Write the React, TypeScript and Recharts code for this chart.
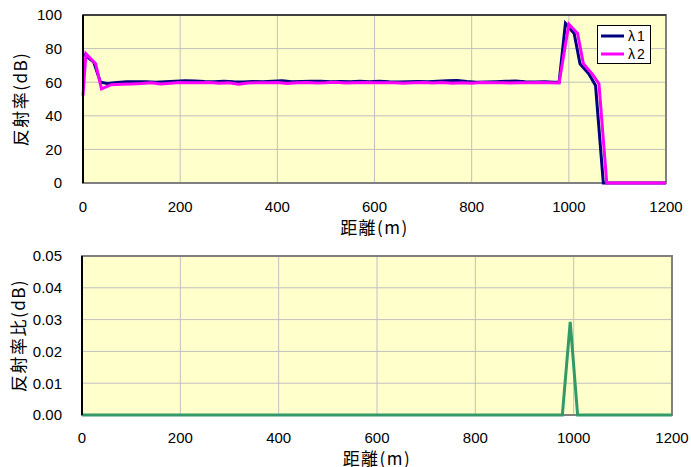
// Reflectance vs distance (λ1 / λ2) and reflectance ratio — two stacked line charts
import {
  LineChart, Line, XAxis, YAxis, CartesianGrid, Legend, ReferenceArea, ReferenceLine,
} from 'recharts';

const xTicks = [0, 200, 400, 600, 800, 1000, 1200];
const reflTicks = [0, 20, 40, 60, 80, 100];
const ratioTicks = [0, 0.01, 0.02, 0.03, 0.04, 0.05];

// λ1 reflectance (dB) by distance (m)
const lambda1Dist = [
  0, 22, 36, 50, 70, 90, 110, 130, 150, 170, 190, 210, 230, 250, 270, 290, 310, 330, 350, 370,
  390, 410, 430, 450, 470, 490, 510, 530, 550, 570, 590, 610, 630, 650, 670, 690, 710, 730, 750,
  770, 790, 810, 830, 850, 870, 890, 910, 930, 950, 970, 980, 993, 1011, 1023, 1041, 1055, 1071,
  1200,
];
const lambda1Refl = [
  77, 72, 60, 59.3, 59.8, 60.2, 60.3, 60.2, 60.0, 60.3, 60.6, 60.8, 60.7, 60.4, 60.3, 60.5, 60.2,
  60.1, 60.4, 60.2, 60.5, 60.8, 60.3, 60.4, 60.6, 60.5, 60.2, 60.4, 60.2, 60.5, 60.3, 60.6, 60.2,
  60.1, 60.3, 60.4, 60.2, 60.6, 60.9, 61.0, 60.4, 60.0, 60.1, 60.3, 60.5, 60.7, 60.2, 60.1, 60.2,
  60.0, 60.0, 95, 89, 71, 65, 58, 0, 0,
];

// λ2 reflectance (dB) by distance (m)
const lambda2Dist = [
  0, 6, 26, 38, 58, 80, 100, 120, 140, 160, 180, 200, 220, 240, 260, 280, 300, 320, 340, 360, 380,
  400, 420, 440, 460, 480, 500, 520, 540, 560, 580, 600, 620, 640, 660, 680, 700, 720, 740, 760,
  780, 800, 820, 840, 860, 880, 900, 920, 940, 960, 980, 1000, 1018, 1030, 1048, 1062, 1078, 1200,
];
const lambda2Refl = [
  52, 77, 71, 56, 58.5, 58.8, 59.0, 59.2, 59.6, 58.9, 59.4, 59.8, 59.6, 59.7, 59.8, 59.4, 59.6,
  58.8, 59.5, 59.7, 59.6, 59.8, 59.3, 59.6, 59.8, 59.5, 59.6, 59.9, 59.5, 59.7, 59.8, 59.6, 59.7,
  59.6, 59.4, 59.7, 59.8, 59.5, 59.8, 59.4, 59.6, 59.4, 59.8, 59.7, 59.6, 59.5, 59.7, 59.6, 59.8,
  59.6, 59.5, 94.5, 89, 71, 65, 59, 0, 0,
];

// reflectance ratio (dB)
const ratioDist = [0, 200, 400, 600, 800, 977, 993, 1008, 1200];
const ratioValue = [0, 0, 0, 0, 0, 0, 0.0293, 0, 0];

const toRows = (xs: number[], ys: number[]) => xs.map((d, i) => ({ dist: d, value: ys[i] }));

const lambda1Data = toRows(lambda1Dist, lambda1Refl);
const lambda2Data = toRows(lambda2Dist, lambda2Refl);
const ratioData = toRows(ratioDist, ratioValue);

const tickStyle = { fontSize: 15, fill: '#000', fontFamily: 'Liberation Sans, Arial, sans-serif' };
const labelStyle = {
  fontSize: 17, fill: '#000', letterSpacing: 1.5, fontFamily: '"Noto Sans CJK JP", sans-serif',
};

// eslint-disable-next-line @typescript-eslint/no-explicit-any
const LegendBox = (props: any) => {
  const { payload = [] } = props;
  return (
    <div style={{
      border: '1px solid #000', background: '#fff', width: 54, height: 39,
      boxSizing: 'border-box', padding: '1px 3px',
    }}>
      {payload.map((p: any) => (
        <div key={p.value} style={{ display: 'flex', alignItems: 'center', height: 18 }}>
          <svg width={23} height={4} style={{ display: 'block' }}>
            <line x1={0} y1={2} x2={23} y2={2} stroke={p.color} strokeWidth={3} />
          </svg>
          <span style={{
            marginLeft: 4, fontSize: 14, lineHeight: '16px', color: '#000', letterSpacing: 2,
            fontFamily: 'Liberation Sans, Arial, sans-serif',
          }}>{p.value}</span>
        </div>
      ))}
    </div>
  );
};

export default function App() {
  return (
    <div style={{ position: 'absolute', left: 0, top: 0, width: 691, height: 467, background: '#fff' }}>
      <div style={{ position: 'absolute', left: 0, top: 0 }}>
        <LineChart width={691} height={240} margin={{ top: 15, right: 25, bottom: 0, left: 0 }}>
          <CartesianGrid stroke="#c0c0c0" fill="#ffffcc" fillOpacity={1} />
          <XAxis
            dataKey="dist"
            type="number"
            domain={[0, 1200]}
            ticks={xTicks}
            height={57}
            tick={tickStyle}
            tickLine={false}
            tickSize={0}
            tickMargin={18}
            axisLine={false}
            label={{ value: '距離(m)', position: 'center', dy: 16, style: labelStyle }}
          />
          <YAxis
            type="number"
            domain={[0, 100]}
            ticks={reflTicks}
            width={83}
            tick={tickStyle}
            tickLine={false}
            tickSize={0}
            tickMargin={21}
            axisLine={{ stroke: '#000', strokeWidth: 2 }}
            label={{ value: '反射率(dB)', angle: -90, position: 'center', dx: -21, style: labelStyle }}
          />
          <ReferenceArea x1={0} x2={1200} y1={0} y2={100} fill="none" stroke="#808080" strokeWidth={2} />
          <ReferenceLine y={100} stroke="#404040" strokeWidth={2} />
          <Legend
            layout="vertical"
            align="center"
            verticalAlign="middle"
            content={LegendBox}
            wrapperStyle={{ left: 597, top: 25, width: 54, height: 39 }}
          />
          <Line
            data={lambda1Data}
            dataKey="value"
            name="λ1"
            stroke="#000080"
            strokeWidth={3}
            dot={false}
            type="linear"
            isAnimationActive={false}
          />
          <Line
            data={lambda2Data}
            dataKey="value"
            name="λ2"
            stroke="#ff00ff"
            strokeWidth={3}
            dot={false}
            type="linear"
            isAnimationActive={false}
          />
        </LineChart>
      </div>
      <div style={{ position: 'absolute', left: 0, top: 240 }}>
        <LineChart width={691} height={227} margin={{ top: 16, right: 19, bottom: 0, left: 0 }}>
          <CartesianGrid stroke="#c0c0c0" fill="#ffffcc" fillOpacity={1} />
          <XAxis
            dataKey="dist"
            type="number"
            domain={[0, 1200]}
            ticks={xTicks}
            height={52}
            tick={tickStyle}
            tickLine={false}
            tickSize={0}
            tickMargin={17}
            axisLine={false}
            label={{ value: '距離(m)', position: 'center', dy: 18, style: labelStyle }}
          />
          <YAxis
            type="number"
            domain={[0, 0.05]}
            ticks={ratioTicks}
            width={82}
            tick={tickStyle}
            tickLine={false}
            tickSize={0}
            tickMargin={20}
            tickFormatter={(v: number) => v.toFixed(2)}
            axisLine={{ stroke: '#000', strokeWidth: 2 }}
            label={{ value: '反射率比(dB)', angle: -90, position: 'center', dx: -22, style: labelStyle }}
          />
          <ReferenceArea x1={0} x2={1200} y1={0} y2={0.05} fill="none" stroke="#808080" strokeWidth={2} />
          <Line
            data={ratioData}
            dataKey="value"
            name="比"
            stroke="#339966"
            strokeWidth={3}
            dot={false}
            type="linear"
            isAnimationActive={false}
          />
        </LineChart>
      </div>
    </div>
  );
}
